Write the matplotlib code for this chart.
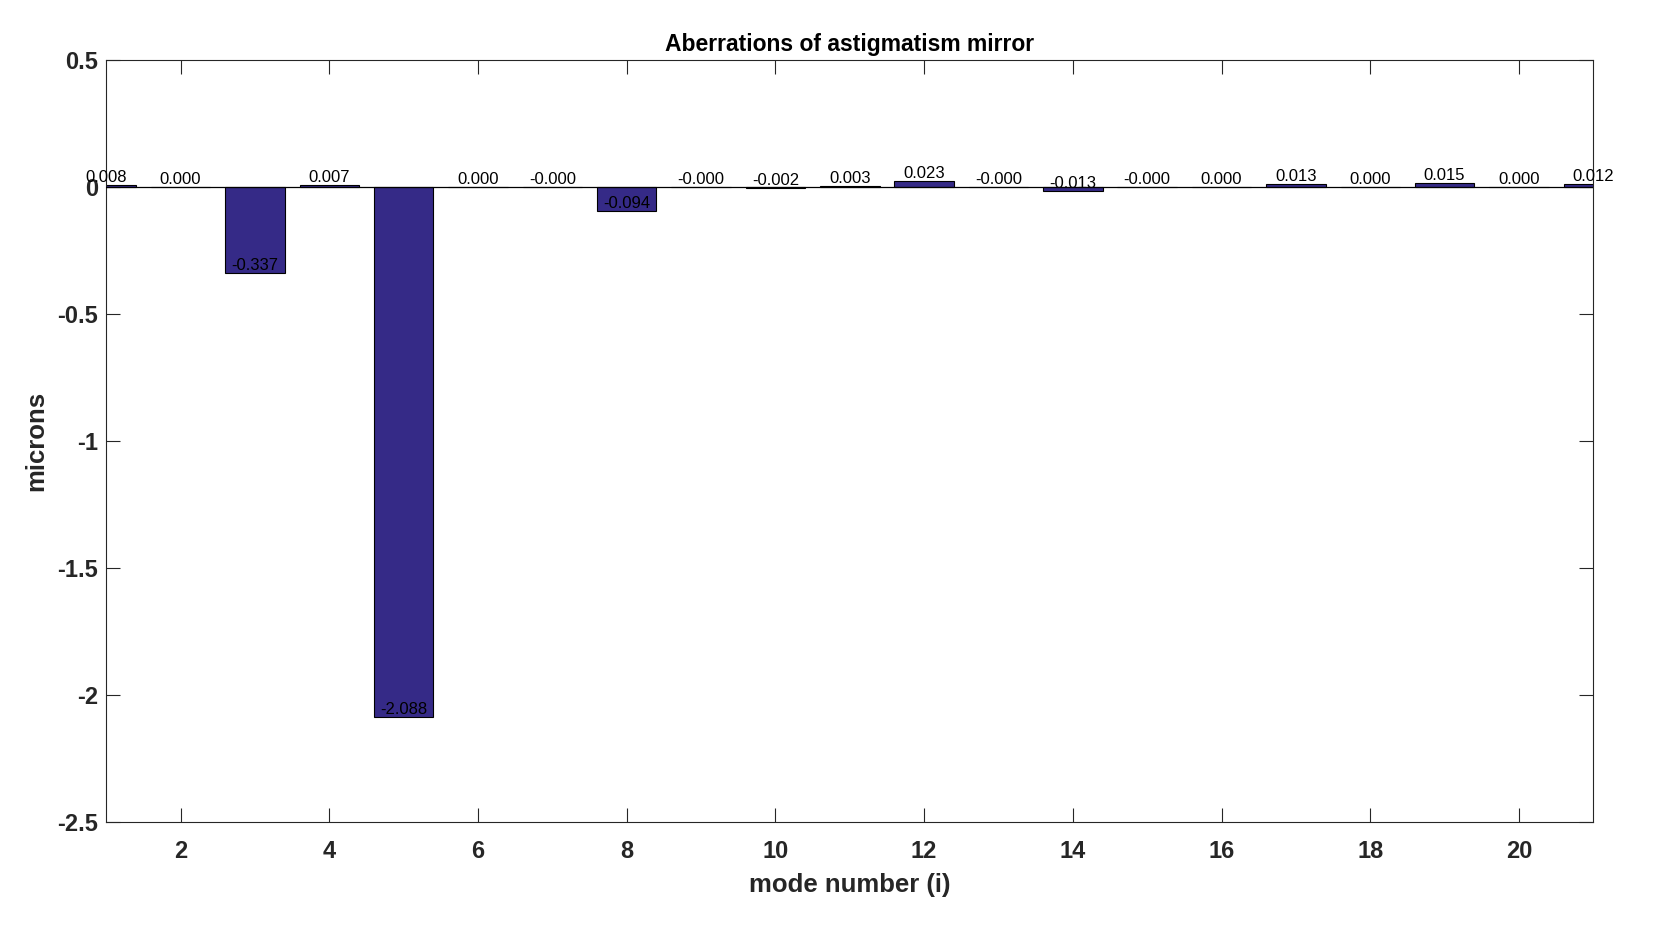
import numpy as np
import matplotlib
matplotlib.use('Agg')
import matplotlib.pyplot as plt

plt.rcParams['font.family'] = ['Liberation Sans', 'DejaVu Sans']

# zernike mode numbers and measured coefficients (microns)
modes = np.arange(1, 22)
coeffs = [0.008, 0.0001, -0.337, 0.007, -2.088, 0.0001, -0.0001, -0.094,
          -0.0001, -0.002, 0.003, 0.023, -0.0001, -0.013, -0.0001, 0.0001,
          0.013, 0.0001, 0.015, 0.0001, 0.012]
xticks = np.arange(2, 21, 2)
yticks = [-2.5, -2, -1.5, -1, -0.5, 0, 0.5]
ytick_labels = ['-2.5', '-2', '-1.5', '-1', '-0.5', '0', '0.5']

gray = '#262626'
fig = plt.figure(figsize=(16.63, 9.26), dpi=100)
ax = fig.add_axes([0.0639, 0.1123, 0.8942, 0.8226])

ax.bar(modes, coeffs, width=0.8, color='#352A87', edgecolor='black', linewidth=0.8, zorder=2)
ax.axhline(0, color='black', linewidth=0.9, zorder=3)

# value labels sit on the end of each bar
for m, c in zip(modes, coeffs):
    ax.text(m, c, '%.3f' % c, ha='center', va='bottom', fontsize=12, color='black',
            zorder=4, clip_on=False)

ax.set_xlim(1, 21)
ax.set_ylim(-2.5, 0.5)
ax.set_xticks(xticks)
ax.set_yticks(yticks)
ax.set_yticklabels(ytick_labels)
ax.tick_params(direction='in', length=10, width=0.8, top=True, right=True,
               labelsize=17, colors=gray)
ax.tick_params(axis='x', pad=13)
ax.tick_params(axis='y', pad=6)
for lbl in ax.get_xticklabels() + ax.get_yticklabels():
    lbl.set_fontweight('bold')
for sp in ax.spines.values():
    sp.set_color(gray)
    sp.set_linewidth(0.8)

ax.set_title('Aberrations of astigmatism mirror', fontsize=16.5, fontweight='bold', pad=7)
ax.set_xlabel('mode number (i)', fontsize=18.5, fontweight='bold', color=gray, labelpad=7)
ax.set_ylabel('microns', fontsize=18.5, fontweight='bold', color=gray, labelpad=6)

fig.savefig('out.png', dpi=100)
